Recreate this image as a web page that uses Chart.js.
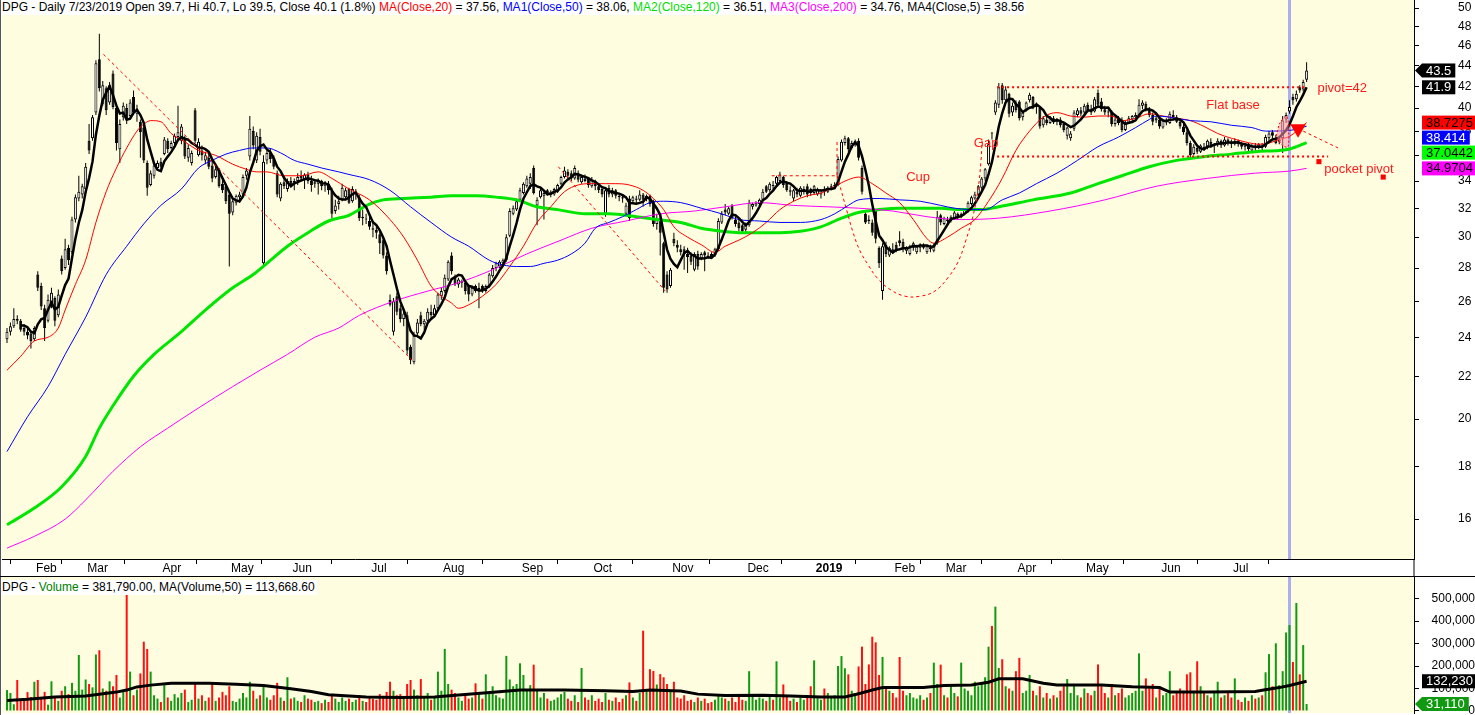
<!DOCTYPE html>
<html>
<head>
<meta charset="utf-8">
<script src="https://cdn.jsdelivr.net/npm/chart.js@4.4.1/dist/chart.umd.min.js"></script>
<style>
  body { margin: 0; width: 1475px; height: 715px; overflow: hidden; background: #fff; font-family: "Liberation Sans", Arial, sans-serif; }
  #wrap { position: relative; width: 1475px; height: 715px; }
  #priceCanvas { position: absolute; left: 0; top: 0; }
  #volCanvas { position: absolute; left: 0; top: 576px; }
  .title { position: absolute; left: 2px; font-size: 12px; line-height: 15px; white-space: nowrap; color: #000; background: #fff; padding-right: 2px; }
  .frameLeft { position: absolute; left: 0; top: 0; width: 1px; height: 715px; background: #555; }
  .frameTop { position: absolute; left: 0; top: 576px; width: 1475px; height: 1px; background: #000; }
</style>
</head>
<body>
<div id="wrap">
  <canvas id="priceCanvas" width="1475" height="576"></canvas>
  <canvas id="volCanvas" width="1475" height="139"></canvas>
  <div class="frameLeft"></div>
  <div class="frameTop"></div>
  <div class="title" style="top:0px">DPG - Daily 7/23/2019 Open 39.7, Hi 40.7, Lo 39.5, Close 40.1 (1.8%) <span style="color:#ff0000">MA(Close,20)</span> = 37.56, <span style="color:#0000ff">MA1(Close,50)</span> = 38.06, <span style="color:#00dd00">MA2(Close,120)</span> = 36.51, <span style="color:#ff00ff">MA3(Close,200)</span> = 34.76, MA4(Close,5) = 38.56</div>
  <div class="title" style="top:580px">DPG - <span style="color:#008000">Volume</span> = 381,790.00, MA(Volume,50) = 113,668.60</div>
</div>
<script>
// month axis: first bar index of each month
const monthStarts = [9, 24, 46, 66, 84, 107, 128, 151, 172, 195, 217, 237, 260, 275, 296, 316, 338, 359];
const monthLabels = ['Feb', 'Mar', 'Apr', 'May', 'Jun', 'Jul', 'Aug', 'Sep', 'Oct', 'Nov', 'Dec', '2019', 'Feb', 'Mar', 'Apr', 'May', 'Jun', 'Jul'];
const priceTicks = [16, 18, 20, 22, 24, 26, 28, 30, 32, 34, 36, 38, 40, 42, 44, 46, 48, 50];
const volumeTicks = [0, 100000, 200000, 300000, 400000, 500000];
const selectedBar = 375; // 7/23/2019

// daily prices (one entry per trading day)
const opens = [
  23.9,24.3,24.6,25.0,24.9,24.5,24.3,24.2,23.9,27.6, 26.9,25.6,24.9,25.8,26.2,25.2,28.6,28.0,29.3,29.0,
  31.2,32.7,33.0,33.4,37.2,37.4,39.6,44.6,40.4,41.8, 40.5,43.2,40.0,36.5,39.2,40.0,39.3,41.0,39.5,38.8,
  38.3,35.4,33.7,34.4,35.0,35.5,36.1,37.2,36.6,37.0, 37.5,37.2,37.4,35.8,35.4,39.8,36.0,36.4,35.6,35.8,
  35.2,34.3,34.8,33.8,33.6,33.0,31.7,32.4,32.8,33.0, 34.4,35.9,38.0,35.6,37.5,28.3,35.6,36.2,35.8,34.6,
  32.7,33.9,33.4,34.0,33.8,34.0,34.4,34.1,34.5,34.0, 33.8,33.8,34.0,33.6,33.8,33.3,31.8,32.3,32.6,32.8,
  33.4,32.5,33.0,32.8,31.3,31.2,31.1,30.6,30.5,30.2, 29.8,28.8,26.1,24.3,26.3,25.6,25.0,25.2,23.5,22.7,
  24.2,25.2,24.7,24.9,25.4,25.2,25.6,26.3,26.6,27.3, 28.8,27.5,27.0,27.1,27.1,26.9,26.4,26.9,26.7,26.9,
  26.6,26.9,27.5,28.0,28.1,28.3,28.5,30.1,31.6,31.9, 32.6,33.1,33.6,33.8,35.0,32.2,32.8,32.9,33.3,33.0,
  33.0,33.2,33.8,34.3,34.7,34.6,34.2,34.6,33.9,34.2, 34.2,33.6,34.0,33.6,33.4,31.6,33.5,33.0,33.3,32.9,
  32.8,31.6,32.7,32.5,32.7,32.6,33.0,32.7,32.9,32.5, 30.9,31.3,29.6,27.6,26.9,29.9,29.5,29.2,29.2,28.9,
  28.8,27.9,28.9,28.6,29.0,28.8,28.9,28.8,29.2,31.0, 31.9,31.6,32.2,31.2,31.0,30.8,30.5,30.8,32.1,32.2,
  32.3,32.6,33.6,33.3,33.7,33.8,34.0,34.3,33.9,33.3, 32.7,33.2,32.9,33.2,33.6,33.4,33.1,33.0,33.0,33.3,
  33.2,33.5,33.6,33.7,35.6,37.0,37.4,36.6,37.0,37.2, 35.0,31.6,31.2,31.0,31.8,29.3,26.6,29.5,28.8,29.2,
  29.5,29.8,29.7,29.1,28.9,29.3,29.0,29.3,29.5,29.0, 29.3,29.1,29.6,31.5,30.9,31.2,31.1,31.3,31.6,31.4,
  31.6,31.8,32.3,32.7,33.0,33.5,34.2,35.3,37.8,39.6, 40.3,42.1,40.7,41.3,39.6,40.4,40.6,39.2,39.8,40.7,
  41.0,40.1,40.0,38.5,39.0,38.7,39.1,38.8,39.0,38.6, 37.6,37.4,38.2,39.4,39.8,39.6,40.3,39.9,39.7,41.4,
  40.6,39.9,39.6,39.7,38.6,39.1,39.0,38.1,38.7,39.0, 39.2,39.3,40.2,40.4,39.9,39.4,38.9,39.0,38.3,38.8,
  38.7,39.4,39.2,38.8,38.4,37.9,37.0,36.1,36.6,36.3, 36.7,36.6,37.1,36.8,36.9,37.2,36.8,37.3,37.0,36.9,
  37.2,36.9,36.7,36.9,36.4,36.8,36.6,36.8,36.7,37.4, 37.9,37.0,37.1,37.4,39.0,39.7,41.0,40.8,41.9,41.7,
  42.6
];
const highs = [
  24.5,24.8,25.6,25.2,25.0,24.7,24.6,24.3,24.6,27.8, 27.1,25.8,26.4,26.8,26.3,26.7,28.8,29.9,29.5,31.4,
  33.0,34.4,33.8,35.4,38.6,39.4,44.5,47.2,42.5,42.0, 42.4,43.5,40.2,39.0,40.5,40.4,40.8,41.6,40.3,39.0,
  38.6,35.6,34.8,35.4,35.6,35.8,37.5,37.4,37.2,37.8, 40.2,38.6,37.6,36.9,36.4,40.0,37.4,36.8,36.3,36.1,
  35.6,35.2,35.0,34.1,33.8,33.2,32.7,33.0,33.2,34.5, 35.0,39.3,38.4,37.9,38.2,36.0,36.4,36.6,36.0,34.8,
  33.9,34.4,34.2,34.3,34.2,34.6,34.8,34.6,34.7,34.4, 34.1,34.2,34.1,34.0,34.0,33.5,32.6,32.9,33.8,33.5,
  33.5,33.6,33.4,33.0,31.9,31.6,31.4,31.0,30.9,30.4, 30.0,29.0,26.4,26.2,26.5,25.8,25.6,25.4,23.6,24.3,
  25.0,25.4,25.0,25.6,25.8,25.8,26.5,26.8,27.6,28.5, 29.0,27.6,27.4,27.3,27.2,27.0,26.9,27.0,27.1,27.0,
  27.0,27.7,28.2,28.4,28.5,28.6,30.2,32.0,32.2,32.7, 33.5,33.9,34.4,34.6,35.2,32.8,33.5,33.3,33.4,33.3,
  33.5,33.8,34.4,35.1,34.9,34.8,35.2,34.8,34.4,34.5, 34.3,34.3,34.1,33.8,33.6,33.5,33.7,33.5,33.4,33.1,
  33.0,32.4,32.9,32.9,32.9,33.3,33.1,33.0,33.0,32.6, 31.6,31.5,29.7,27.8,28.0,30.3,29.8,29.5,29.4,29.3,
  29.0,29.0,29.1,29.0,29.1,29.0,29.0,29.3,31.3,31.8, 32.3,32.1,32.3,31.4,31.2,30.9,31.0,32.6,32.4,32.5,
  32.7,33.4,33.7,33.9,34.0,34.4,34.7,34.4,34.0,33.6, 33.4,33.5,33.6,33.6,33.8,33.5,33.7,33.5,33.4,33.6,
  33.6,33.8,33.9,35.9,37.3,37.6,37.5,37.2,37.3,37.4, 35.2,31.7,31.5,31.2,31.9,29.4,29.6,29.7,29.4,29.6,
  29.7,30.4,29.9,29.4,29.5,29.7,29.5,29.6,29.6,29.5, 29.5,29.6,31.8,31.6,31.4,31.4,31.5,31.8,31.7,31.7,
  32.0,32.5,32.9,33.2,33.7,34.3,35.0,37.3,37.9,40.7, 42.3,42.3,42.0,41.4,40.5,40.7,40.7,39.7,40.6,41.4,
  41.1,40.5,40.1,39.3,39.4,39.3,39.3,39.1,39.2,38.8, 38.4,38.0,39.8,40.0,40.1,40.4,40.5,40.3,41.0,41.7,
  40.9,40.2,39.9,39.8,39.2,39.3,39.2,38.9,39.3,39.4, 39.6,40.8,40.7,40.6,40.1,39.6,39.3,39.2,39.0,39.1,
  39.7,39.8,39.4,39.0,38.6,38.1,37.2,36.9,36.8,36.9, 37.0,37.3,37.4,37.0,37.4,37.3,37.5,37.4,37.3,37.4,
  37.3,37.1,37.0,37.0,36.9,37.0,37.0,37.0,37.7,38.0, 38.1,37.7,37.5,39.3,39.6,40.7,41.3,41.6,42.1,42.6,
  44.3
];
const lows = [
  23.7,24.1,24.5,24.7,24.3,24.1,23.9,23.4,23.8,26.6, 25.5,23.8,24.8,25.6,24.6,25.1,27.6,27.9,28.2,28.9,
  31.0,32.5,32.7,33.1,36.1,37.2,39.4,41.5,40.2,39.4, 40.3,39.9,36.4,35.4,38.9,38.6,39.1,39.4,38.8,35.8,
  35.4,32.9,33.6,34.2,34.8,34.9,36.0,36.2,36.5,36.8, 37.3,36.9,35.7,35.5,35.2,37.0,35.9,35.6,35.3,34.9,
  33.9,34.2,33.5,33.1,32.3,28.1,31.5,32.2,32.4,32.8, 34.1,35.6,36.5,35.4,36.0,28.0,35.3,35.4,34.9,32.8,
  32.5,33.4,33.2,33.5,33.3,33.7,34.0,33.4,33.8,33.2, 33.5,33.0,33.3,33.2,33.0,31.3,31.6,31.9,32.5,32.6,
  32.3,32.4,32.6,31.1,30.8,30.9,30.5,30.0,29.9,28.9, 28.6,27.6,25.7,24.1,25.2,24.8,24.6,23.1,22.6,22.6,
  24.0,24.6,24.4,24.8,25.0,25.1,25.5,26.1,26.5,27.2, 27.6,26.9,26.8,26.8,26.4,26.0,26.3,26.5,25.6,26.5,
  26.5,26.8,27.4,27.8,28.0,28.1,28.4,30.0,31.5,31.8, 32.5,33.0,33.5,33.4,33.0,30.8,32.7,31.2,32.9,32.8,
  32.9,33.1,33.7,34.2,34.2,34.0,34.1,33.9,33.8,33.9, 33.5,33.5,33.3,33.1,32.8,31.4,32.8,32.8,32.7,32.5,
  32.4,31.5,31.1,32.3,32.4,32.5,32.1,32.5,32.1,30.7, 30.5,28.8,26.5,26.5,26.8,29.4,29.0,28.8,27.9,27.7,
  28.2,27.8,27.9,28.5,27.8,28.6,28.6,28.7,29.1,30.9, 31.5,31.5,31.2,30.7,30.4,30.3,30.3,30.7,31.9,32.1,
  32.2,32.5,33.1,33.2,33.3,33.7,33.9,33.5,33.2,32.9, 32.5,32.8,32.8,33.0,32.8,32.9,33.0,32.9,32.7,32.9,
  33.1,33.3,33.4,33.6,35.5,36.8,36.3,36.5,36.7,35.6, 33.0,30.9,30.9,30.1,29.6,28.0,26.1,28.7,28.7,28.9,
  29.0,29.4,29.0,28.9,28.8,29.1,28.9,29.0,29.2,28.9, 29.0,29.0,29.5,30.8,30.8,30.9,31.0,31.2,31.2,31.3,
  31.5,31.7,32.2,32.6,32.9,33.3,34.0,35.2,37.3,39.4, 40.0,40.4,40.6,39.2,39.3,39.6,38.9,38.9,39.7,40.5,
  39.9,39.5,38.2,38.3,38.5,38.6,38.6,38.5,38.3,37.9, 37.3,37.2,38.0,39.2,39.3,39.5,39.6,39.4,39.6,40.1,
  39.7,39.4,39.2,38.4,38.4,38.5,37.9,38.0,38.6,38.8, 38.9,39.2,39.9,39.7,39.2,38.5,38.7,38.2,38.2,38.5,
  38.6,39.0,38.7,38.2,37.7,36.8,35.7,36.0,36.1,36.2, 36.4,36.5,36.6,36.2,36.7,36.6,36.7,36.8,36.6,36.8,
  36.7,36.5,36.4,36.3,36.3,36.4,36.5,36.4,36.6,37.2, 37.4,36.9,36.9,36.2,38.7,39.5,40.3,40.6,41.4,41.5,
  42.4
];
const closes = [
  24.3,24.6,25.0,24.9,24.4,24.3,24.1,23.8,24.5,26.8, 25.7,24.5,26.1,26.5,24.9,26.4,27.8,29.2,28.5,31.2,
  32.8,33.2,33.6,35.1,36.4,39.2,44.2,41.8,42.1,39.8, 42.1,40.1,37.0,38.6,40.2,39.0,40.5,39.6,39.9,37.9,
  35.6,33.5,34.6,35.2,35.4,35.1,37.3,36.5,37.0,37.6, 37.9,38.4,35.9,36.6,36.2,37.2,37.1,36.0,36.0,35.1,
  34.2,34.9,33.6,33.3,32.5,31.6,32.5,32.9,33.0,34.3, 34.8,38.2,36.8,37.6,36.3,35.5,36.2,35.7,35.1,33.0,
  33.8,33.6,34.0,33.7,34.0,34.3,34.2,34.5,34.0,33.7, 33.9,34.0,33.6,33.9,33.3,31.6,32.2,32.5,33.5,33.3,
  32.4,33.4,33.1,31.3,31.4,31.2,30.7,30.5,30.3,29.6, 28.8,27.8,25.8,26.0,25.4,25.0,25.3,23.3,22.8,24.1,
  24.8,24.7,24.9,25.4,25.2,25.6,26.4,26.6,27.4,28.4, 27.8,27.0,27.3,27.2,26.6,26.4,26.8,26.6,26.8,26.6,
  26.9,27.6,28.0,28.3,28.4,28.5,30.0,31.8,32.0,32.5, 33.3,33.8,34.2,34.3,33.1,32.6,33.3,33.1,33.0,33.2,
  33.4,33.7,34.3,34.8,34.4,34.2,35.0,34.1,34.3,34.0, 33.7,34.1,33.6,33.3,33.0,33.3,33.0,33.3,32.9,32.8,
  32.7,32.2,31.3,32.8,32.6,33.0,32.6,32.9,32.3,30.9, 31.2,30.3,26.8,26.7,27.9,29.6,29.3,29.0,28.9,28.7,
  28.4,28.9,28.1,28.9,28.8,28.7,28.7,29.2,31.1,31.6, 31.7,32.0,31.3,30.9,30.6,30.4,30.8,32.4,32.3,32.4,
  32.6,33.2,33.2,33.8,33.6,34.3,34.5,33.7,33.3,33.2, 33.3,33.0,33.5,33.4,33.0,33.1,33.6,33.4,33.3,33.2,
  33.5,33.6,33.7,35.7,37.1,37.4,36.5,37.0,37.2,35.8, 33.2,31.0,31.1,30.3,29.9,28.3,29.4,28.9,29.3,29.1,
  29.1,29.6,29.2,29.3,29.4,29.6,29.4,29.5,29.3,29.4, 29.2,29.5,31.4,31.0,31.3,31.1,31.4,31.7,31.4,31.6,
  31.9,32.4,32.8,33.0,33.6,34.2,34.9,36.9,37.8,40.5, 41.9,40.7,41.7,39.5,40.2,39.8,39.1,39.6,40.5,41.2,
  40.1,40.3,38.4,39.1,38.7,39.2,38.8,39.0,38.5,38.1, 38.3,37.8,39.6,39.8,39.5,40.2,39.8,39.6,40.8,40.3,
  39.9,39.6,39.7,38.6,39.0,38.7,38.1,38.7,39.1,39.3, 39.4,40.3,40.5,39.9,39.4,38.8,39.1,38.4,38.9,39.0,
  39.5,39.2,38.8,38.4,37.9,37.0,36.0,36.7,36.3,36.8, 36.6,37.2,36.8,36.9,37.2,36.8,37.3,37.0,36.9,37.2,
  36.9,36.7,36.8,36.5,36.8,36.6,36.9,36.7,37.5,37.8, 37.6,37.2,37.3,38.9,39.4,40.1,40.7,41.3,41.6,42.4,
  43.5
];
// daily volume, thousands of shares
const volumeK = [
  93,80,30,138,50,48,84,62,130,138, 62,85,28,132,60,45,90,110,75,125,
  90,249,95,140,120,105,251,270,100,90, 132,110,160,60,90,523,175,70,95,167,
  308,276,175,70,55,40,115,60,45,75, 60,80,95,40,50,120,55,70,45,60,
  120,45,60,85,70,110,45,40,55,80, 60,130,90,55,70,115,60,50,70,125,
  60,45,150,55,60,45,40,70,55,50, 40,45,35,50,40,75,55,40,60,45,
  55,40,50,70,45,40,60,55,50,75, 60,85,130,90,70,75,60,120,138,95,
  70,142,60,80,50,65,175,90,276,120, 95,80,60,45,70,55,60,123,80,55,
  163,80,110,70,60,55,245,140,110,120, 212,160,90,115,206,90,60,80,55,45,
  50,60,75,85,55,45,70,40,191,60, 50,70,45,55,40,80,50,45,60,40,
  55,70,127,60,45,80,357,90,186,178, 118,164,150,120,90,130,60,55,70,45,
  50,40,60,45,55,35,40,50,68,60, 55,45,60,40,68,50,45,177,70,50,
  60,55,45,70,50,221,60,118,70,45, 55,40,60,50,70,110,225,60,50,100,
  80,65,70,200,244,190,163,90,80,198, 286,120,207,330,305,160,240,110,90,80,
  60,240,90,70,80,60,55,70,50,60, 80,215,120,206,70,60,110,80,65,215,
  100,90,70,130,110,120,150,286,378,464, 191,230,110,100,90,177,236,80,90,160,
  90,70,110,60,80,55,70,60,90,110, 142,80,120,70,60,100,80,70,90,207,
  110,80,60,120,70,80,100,60,70,80, 90,256,90,145,100,120,60,110,70,80,
  177,70,80,100,90,163,172,90,221,110, 80,70,60,80,130,60,70,80,60,145,
  50,40,60,45,70,55,60,70,172,253, 110,301,115,177,349,381.79,218,480,163,293,
  31.11
];

// moving averages: [bar index, value]
const ma20Pts = [[0,22.3],[4,23.0],[8,23.8],[12,24.0],[15,24.5],[17,25.5],[20,27.0],[23,28.5],[26,31.0],[29,33.2],
  [32,35.0],[35,36.6],[38,38.0],[40,38.6],[42,38.9],[45,38.8],[48,37.8],[52,37.1],[56,36.4],[61,36.0],
  [66,35.3],[70,34.9],[73,34.7],[76,34.7],[81,34.4],[86,34.4],[91,34.7],[95,34.2],[100,33.4],[106,32.6],
  [112,31.2],[116,30.0],[120,28.5],[124,26.9],[127,26.3],[130,25.9],[132,25.6],[135,25.8],[139,26.3],[143,27.0],
  [147,28.1],[151,29.4],[155,31.0],[159,32.1],[163,33.2],[167,33.7],[171,33.8],[175,33.8],[178,33.8],[182,33.7],
  [186,33.3],[189,32.7],[192,31.9],[195,30.7],[199,30.0],[203,29.5],[207,29.0],[210,29.4],[214,29.8],[218,30.3],
  [222,31.0],[226,31.9],[230,32.5],[234,32.9],[238,33.1],[242,33.6],[246,34.1],[249,34.3],[253,33.8],[257,33.1],
  [261,32.4],[265,31.2],[269,29.9],[271,29.6],[275,30.0],[279,30.6],[283,31.2],[287,32.5],[291,34.2],[295,36.4],
  [299,38.0],[303,39.2],[307,39.6],[311,39.3],[315,39.2],[319,39.3],[323,39.3],[326,38.9],[330,39.1],[334,39.5],
  [338,39.3],[342,39.1],[346,38.9],[350,38.4],[354,37.8],[358,37.4],[362,37.1],[366,36.9],[369,37.0],[372,37.3],
  [375,37.56],[380,38.7275]];
const ma50Pts = [[0,18.6],[6,20.1],[12,21.5],[17,23.1],[23,25.1],[29,27.6],[35,29.4],[40,30.9],[45,32.2],[51,33.4],
  [56,35.0],[60,35.6],[64,36.1],[68,36.4],[72,36.6],[76,36.6],[80,36.2],[84,35.6],[88,35.3],[92,35.0],
  [97,34.7],[100,34.5],[106,34.1],[112,33.3],[118,32.1],[124,31.0],[130,30.0],[135,29.4],[141,28.5],[145,28.2],
  [149,28.1],[153,28.1],[157,28.3],[161,28.5],[165,28.9],[169,29.6],[172,30.6],[176,31.0],[180,31.4],[184,31.9],
  [188,32.4],[192,32.5],[197,32.4],[203,32.0],[209,31.6],[214,31.2],[220,31.1],[226,31.0],[232,31.0],[238,31.2],
  [242,31.6],[246,32.2],[249,32.6],[255,32.7],[261,32.6],[267,32.5],[273,32.2],[277,32.0],[282,31.9],[286,31.9],
  [291,32.6],[296,33.1],[301,33.8],[307,34.6],[313,35.6],[319,36.7],[325,37.5],[330,38.3],[334,39.0],[336,39.3],
  [340,39.2],[346,38.9],[352,38.8],[358,38.5],[364,38.3],[368,38.0],[375,38.06],[380,38.414]];
const ma120Pts = [[0,15.8],[8,16.4],[16,17.2],[23,18.4],[27,19.6],[31,20.6],[37,22.0],[43,23.1],[51,24.3],[58,25.5],
  [66,26.8],[72,27.6],[76,28.3],[82,29.4],[88,30.3],[94,31.1],[100,31.5],[106,32.3],[110,32.6],[116,32.7],
  [124,32.8],[130,32.9],[137,32.9],[143,32.8],[149,32.6],[155,32.1],[161,31.9],[169,31.6],[176,31.6],[184,31.4],
  [190,31.2],[197,31.0],[203,30.6],[209,30.4],[214,30.3],[226,30.3],[232,30.4],[238,30.7],[244,31.3],[249,31.7],
  [255,31.9],[261,32.0],[273,32.0],[279,31.9],[285,31.9],[290,32.1],[300,32.6],[311,33.1],[319,33.8],[326,34.4],
  [334,35.1],[342,35.6],[350,35.9],[358,36.1],[365,36.3],[372,36.4],[375,36.51],[380,37.0442]];
const ma200Pts = [[0,15.0],[8,15.4],[17,16.0],[23,16.7],[31,17.8],[39,18.8],[47,19.6],[56,20.5],[66,21.5],[74,22.3],
  [82,23.1],[90,24.0],[97,24.5],[103,25.2],[113,26.0],[123,26.6],[132,27.1],[142,27.9],[152,28.9],[162,29.8],
  [171,30.6],[181,31.1],[191,31.6],[201,31.8],[210,32.1],[220,32.4],[230,32.2],[240,32.1],[249,32.0],[259,31.8],
  [269,31.4],[279,31.2],[290,31.3],[305,31.8],[321,32.6],[336,33.6],[351,34.2],[365,34.6],[375,34.76],[380,34.9704]];
const volMaPts = [[0,47],[6,52],[14,62],[23,67],[32,84],[35,93],[38,107],[42,115],[48,123],[59,123],
  [67,119],[75,113],[83,99],[89,87],[94,72],[105,62],[115,60],[125,62],[133,72],[143,84],
  [150,93],[163,93],[175,90],[183,87],[188,93],[197,89],[202,75],[210,69],[221,70],[229,67],
  [238,62],[245,62],[249,77],[253,93],[256,104],[268,104],[274,113],[282,116],[287,128],[290,143],
  [297,143],[303,123],[307,116],[320,116],[329,108],[337,104],[340,84],[351,84],[365,87],[367,92],
  [372,104],[375,113.6686],[380,132.23]];

// hand-drawn annotations: [bar index, price]
const trendMar = [[28.2,45.1],[118.5,22.8]];
const trendSep = [[161.2,35.1],[192.5,26.6]];
const cupLip = [[223.6,34.4],[242.7,34.4],[242.7,37.3]];
const cupCurve = [[242.7,34.4],[245.6,31.8],[247.4,30.3],[249.4,29.1],[251.8,28.2],[254.4,27.4],[258.2,26.7],
  [262.6,26.3],[267,26.3],[271.3,26.6],[275.1,27.4],[278.1,28.4],[280.4,29.8],[282.5,31.5],[283.9,33.3],[284.8,35.6],[285.1,37.2]];
const flatTop = [[289.5,41.9],[380.1,41.9]];
const flatBottom = [[289.5,35.9],[386.3,35.9]];
const exitLine = [[379,38.0],[389.2,36.6]];
const pinkArea = [[371.1,37.6],[372.2,38.7],[374.0,39.3],[374.6,38.9],[374.6,36.7],[372.9,36.8],[371.1,37.6]];
const arrowMark = [[377.5,38.2]];
const pocketMarks = [[383.6,35.5],[402.4,34.3]];
const noteTexts = ['Cup', 'Gap', 'Flat base', 'pivot=42', 'pocket pivot'];
const notePos = [[266.4,34.3],[286.3,37.0],[358.5,40.2],[390.4,41.8],[395.3,34.9]];

const FONT = '"Liberation Sans", Arial, sans-serif';
Chart.defaults.font.family = FONT;
Chart.defaults.font.size = 12;
Chart.defaults.color = '#000';
Chart.defaults.animation = false;

const xMin = -1.46, xMax = 411.4;
const toXY = pts => pts.map(p => ({x: p[0], y: p[1]}));

const bars = closes.map((c, i) => i);
const wickData = bars.map(i => ({x: i, y: [lows[i], highs[i]]}));
const bodyData = bars.map(i => ({x: i, y: [opens[i], closes[i]]}));
const bodyColors = bars.map(i => closes[i] > opens[i] ? '#ffffff' : '#000000');

// MA(Close,5)
const ma5 = [];
for (let i = 4; i < closes.length; i++) {
    let s = 0;
    for (let k = i - 4; k <= i; k++) s += closes[k];
    ma5.push({x: i, y: s / 5});
}

const volData = bars.map(i => ({x: i, y: volumeK[i] * 1000}));
const volColors = bars.map(i => closes[i] > opens[i] ? '#119911' : '#ff1010');
const volMa = volMaPts.map(p => ({x: p[0], y: p[1] * 1000}));

const line = (pts, color, width, order, extra) => Object.assign({
    type: 'line', data: pts, borderColor: color, borderWidth: width,
    pointRadius: 0, fill: false, order: order, cubicInterpolationMode: 'monotone'
}, extra || {});

const dashed = (pts, width, dash) => line(toXY(pts), '#ff0000', width, 0, {borderDash: dash, cubicInterpolationMode: 'default', tension: 0});

// keep the axes from reserving extra room around the plot
const noPad = s => { s.paddingTop = 0; s.paddingBottom = 0; s.paddingLeft = 0; s.paddingRight = 0; };

// paper background + selected day marker
const paperPlugin = {
    id: 'paper',
    beforeDraw(chart) {
        const {ctx, chartArea: a} = chart;
        ctx.save();
        ctx.fillStyle = '#fffde0';
        ctx.fillRect(a.left, a.top, a.right - a.left, a.bottom - a.top);
        const xs = chart.scales.x.getPixelForValue(selectedBar);
        ctx.fillStyle = '#aab0ee';
        ctx.fillRect(xs - 1.5, a.top, 3, a.bottom - a.top);
        ctx.restore();
    }
};

function drawTags(chart, tags) {
    const {ctx} = chart;
    const ys = chart.scales.y;
    const left = ys.left + 8;
    const h = 14;
    ctx.save();
    ctx.font = '13px ' + FONT;
    ctx.textBaseline = 'middle';
    const placed = tags.map(t => Object.assign({cy: ys.getPixelForValue(t.v)}, t)).sort((a, b) => a.cy - b.cy);
    let prevBottom = -1e9;
    placed.forEach(t => {
        let top = t.cy - h / 2;
        if (top < prevBottom + 1) top = prevBottom + 1;
        prevBottom = top + h;
        const w = ctx.measureText(t.text).width + 8;
        ctx.fillStyle = t.bg;
        ctx.fillRect(left, top, w, h);
        if (t.arrow) {
            ctx.beginPath();
            ctx.moveTo(left - 7, top + h / 2);
            ctx.lineTo(left, top);
            ctx.lineTo(left, top + h);
            ctx.closePath();
            ctx.fill();
        }
        ctx.fillStyle = t.fg;
        ctx.fillText(t.text, left + 4, top + h / 2 + 0.5);
    });
    ctx.restore();
}

const last = arr => arr[arr.length - 1];
const fmtPrice = v => String(+v.toFixed(4));

const pricePlugin = {
    id: 'priceExtras',
    afterDraw(chart) {
        const {ctx} = chart;
        const xs = chart.scales.x, ys = chart.scales.y;
        ctx.save();
        // axis line continues down to the volume pane
        ctx.fillStyle = '#000';
        ctx.fillRect(ys.left - 0.5, chart.chartArea.bottom, 1, chart.height - chart.chartArea.bottom);
        ctx.font = '13px ' + FONT;
        ctx.fillStyle = '#ff1a1a';
        ctx.textAlign = 'center';
        ctx.textBaseline = 'middle';
        noteTexts.forEach((t, i) => {
            ctx.fillText(t, xs.getPixelForValue(notePos[i][0]), ys.getPixelForValue(notePos[i][1]));
        });
        ctx.restore();
        drawTags(chart, [
            {v: last(closes), text: fmtPrice(last(closes)), bg: '#000', fg: '#fff', arrow: true},
            {v: last(ma5).y, text: fmtPrice(last(ma5).y), bg: '#000', fg: '#fff'},
            {v: last(ma20Pts)[1], text: fmtPrice(last(ma20Pts)[1]), bg: '#ff0000', fg: '#000'},
            {v: last(ma50Pts)[1], text: fmtPrice(last(ma50Pts)[1]), bg: '#0000ff', fg: '#fff'},
            {v: last(ma120Pts)[1], text: fmtPrice(last(ma120Pts)[1]), bg: '#00ff00', fg: '#000'},
            {v: last(ma200Pts)[1], text: fmtPrice(last(ma200Pts)[1]), bg: '#ff00ff', fg: '#000'}
        ]);
    }
};

const volPlugin = {
    id: 'volExtras',
    afterDraw(chart) {
        drawTags(chart, [
            {v: last(volMa).y, text: Math.round(last(volMa).y).toLocaleString('en-US'), bg: '#000', fg: '#fff'},
            {v: last(volData).y, text: Math.round(last(volData).y).toLocaleString('en-US'), bg: '#119911', fg: '#fff', arrow: true}
        ]);
    }
};

// price pane
new Chart(document.getElementById('priceCanvas'), {
    type: 'bar',
    data: {
        datasets: [
            {type: 'bar', data: wickData, backgroundColor: '#000', barThickness: 1, grouped: false, inflateAmount: 0, order: 9},
            {type: 'bar', data: bodyData, backgroundColor: bodyColors, borderColor: '#000', borderWidth: 1,
             borderSkipped: false, barThickness: 3, grouped: false, minBarLength: 1, inflateAmount: 0, order: 8},
            line(toXY(ma200Pts), '#ff00ff', 1, 4),
            line(toXY(ma120Pts), '#00e600', 3, 4),
            line(toXY(ma50Pts), '#0000ff', 1, 3),
            line(toXY(ma20Pts), '#ff0000', 1, 3),
            line(ma5, '#000000', 2.5, 1, {cubicInterpolationMode: 'default', tension: 0}),
            dashed(trendMar, 1, [3, 3]),
            dashed(trendSep, 1, [3, 3]),
            dashed(cupLip, 1, [3, 3]),
            line(toXY(cupCurve), '#ff0000', 1, 0, {borderDash: [3, 3], cubicInterpolationMode: 'default', tension: 0.4}),
            dashed(flatTop, 2, [2, 3]),
            dashed(flatBottom, 2, [2, 3]),
            dashed(exitLine, 1, [3, 3]),
            line(toXY(pinkArea), '#ff0000', 1, 0, {borderDash: [2, 2], fill: 'shape', backgroundColor: 'rgba(255,150,170,0.55)', cubicInterpolationMode: 'default', tension: 0.3}),
            {type: 'scatter', data: toXY(arrowMark), pointStyle: 'triangle', rotation: 180, pointRadius: 9,
             backgroundColor: '#ff0000', borderColor: '#ff0000', borderWidth: 0, order: 0},
            {type: 'scatter', data: toXY(pocketMarks), pointStyle: 'rect', pointRadius: 3.6,
             backgroundColor: '#ff0000', borderColor: '#ff0000', borderWidth: 0, order: 0}
        ]
    },
    options: {
        responsive: false,
        layout: {autoPadding: false, padding: {left: 2, right: 0, top: 0, bottom: 0}},
        plugins: {legend: {display: false}, tooltip: {enabled: false}},
        scales: {
            x: {
                type: 'linear', min: xMin, max: xMax, offset: false, bounds: 'data',
                grid: {drawOnChartArea: false, drawTicks: true, tickLength: 5, color: '#000'},
                border: {display: true, color: '#000'},
                afterBuildTicks: s => { s.ticks = monthStarts.map(m => ({value: m - 0.5})); },
                afterFit: s => { s.height = 17; noPad(s); },
                ticks: {
                    autoSkip: false, maxRotation: 0, align: 'start', padding: -3,
                    callback: (v, i) => monthLabels[i],
                    font: c => ({family: FONT, size: 12, weight: monthLabels[c.index] === '2019' ? 'bold' : 'normal'})
                }
            },
            y: {
                type: 'logarithmic', position: 'right', min: 14.64, max: 50.9, bounds: 'data',
                grid: {drawOnChartArea: false, tickLength: 5, color: '#000'},
                border: {display: true, color: '#000'},
                afterBuildTicks: s => { s.ticks = priceTicks.map(v => ({value: v})); },
                afterFit: s => { s.width = 61; noPad(s); },
                ticks: {autoSkip: false, padding: 39, callback: v => String(v)}
            }
        }
    },
    plugins: [paperPlugin, pricePlugin]
});

// volume pane
new Chart(document.getElementById('volCanvas'), {
    type: 'bar',
    data: {
        datasets: [
            line(volMa, '#000000', 3, 0, {cubicInterpolationMode: 'default', tension: 0}),
            {type: 'bar', data: volData, backgroundColor: volColors, barThickness: 2, inflateAmount: 0, order: 1}
        ]
    },
    options: {
        responsive: false,
        layout: {autoPadding: false, padding: {left: 2, right: 0, top: 1, bottom: 2}},
        plugins: {legend: {display: false}, tooltip: {enabled: false}},
        scales: {
            x: {type: 'linear', min: xMin, max: xMax, offset: false, bounds: 'data', display: false},
            y: {
                position: 'right', min: -8900, max: 595600, bounds: 'data',
                grid: {drawOnChartArea: false, tickLength: 5, color: '#000'},
                border: {display: true, color: '#000'},
                afterBuildTicks: s => { s.ticks = volumeTicks.map(v => ({value: v})); },
                afterFit: s => { s.width = 61; noPad(s); },
                ticks: {autoSkip: false, padding: 8, crossAlign: 'far', callback: v => v.toLocaleString('en-US')}
            }
        }
    },
    plugins: [paperPlugin, volPlugin]
});
</script>
</body>
</html>
